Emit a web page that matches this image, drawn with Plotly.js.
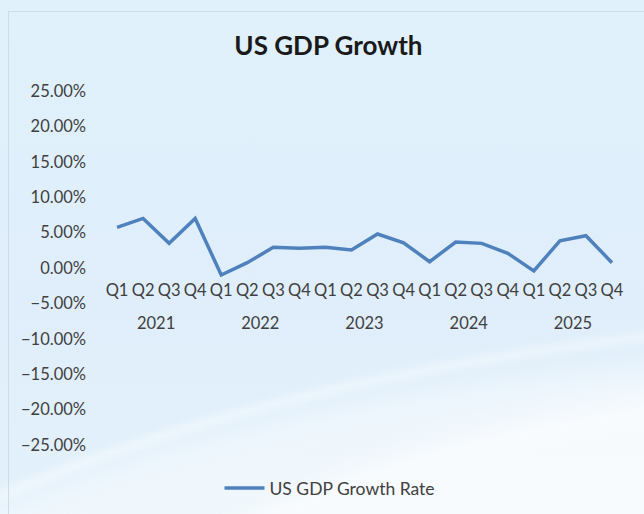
<!DOCTYPE html>
<html>
<head>
<meta charset="utf-8">
<script src="https://cdn.plot.ly/plotly-3.0.1.min.js"></script>
<style>
html, body { margin: 0; padding: 0; width: 644px; height: 514px; overflow: hidden; background: #e0f0fb; }
#bg { position: absolute; left: 0; top: 0; width: 644px; height: 514px; }
#frame { position: absolute; left: 8px; top: 11px; width: 640px; height: 510px; border-left: 1px solid #d0dbe5; border-top: 1px solid #d0dbe5; }
#chart { position: absolute; left: 0; top: 0; width: 644px; height: 514px; }
</style>
</head>
<body>
<svg id="bg" xmlns="http://www.w3.org/2000/svg" width="644" height="514">
  <defs>
    <linearGradient id="g" x1="0" y1="0" x2="0" y2="1">
      <stop offset="0" stop-color="#e0f1fc"/>
      <stop offset="0.6" stop-color="#dfeefa"/>
      <stop offset="1" stop-color="#e3f1fb"/>
    </linearGradient>
    <filter id="blur" x="-0.2" y="-0.2" width="1.4" height="1.4"><feGaussianBlur stdDeviation="14"/></filter>
    <filter id="blur2" x="-0.2" y="-0.2" width="1.4" height="1.4"><feGaussianBlur stdDeviation="4"/></filter>
  </defs>
  <rect width="644" height="514" fill="url(#g)"/>
  <path d="M-40,530 Q250,390 700,360 L700,560 L-40,560 Z" fill="#ffffff" opacity="0.45" filter="url(#blur)"/>
  <path d="M200,540 Q420,420 700,390 L700,560 Z" fill="#ffffff" opacity="0.5" filter="url(#blur)"/>
  <path d="M-20,505 Q260,380 660,335" fill="none" stroke="#ffffff" stroke-width="7" opacity="0.55" filter="url(#blur2)"/>
  <path d="M250,525 Q430,440 660,410" fill="none" stroke="#ffffff" stroke-width="6" opacity="0.45" filter="url(#blur2)"/>
</svg>
<div id="frame"></div>
<div id="chart"></div>
<script>
var years = ["2021","2021","2021","2021","2022","2022","2022","2022","2023","2023","2023","2023","2024","2024","2024","2024","2025","2025","2025","2025"];
var quarters = ["Q1","Q2","Q3","Q4","Q1","Q2","Q3","Q4","Q1","Q2","Q3","Q4","Q1","Q2","Q3","Q4","Q1","Q2","Q3","Q4"];
var growthRate = [0.0574, 0.0700, 0.0348, 0.0700, -0.0099, 0.0075, 0.0292, 0.0278, 0.0292, 0.0254, 0.0480, 0.0357, 0.0089, 0.0367, 0.0348, 0.0207, -0.0042, 0.0385, 0.0456, 0.0075];
var seriesName = "US GDP Growth Rate";
var chartTitle = "US GDP Growth";

// year labels get a blank first line so they sit lower under the quarter labels
var yearLabels = years.map(function (y) { return " <br>" + y; });

var trace = {
  type: "scatter",
  mode: "lines",
  x: [yearLabels, quarters],
  y: growthRate,
  name: seriesName,
  line: { color: "#4f81bd", width: 3.5 },
  showlegend: true,
  hoverinfo: "skip"
};

var fontFam = "Lato, 'Open Sans', sans-serif";

var layout = {
  width: 644,
  height: 514,
  paper_bgcolor: "rgba(0,0,0,0)",
  plot_bgcolor: "rgba(0,0,0,0)",
  margin: { l: 104, r: 19, t: 91, b: 69, autoexpand: false },
  font: { family: fontFam, color: "#404040", size: 16.5 },
  title: {
    text: "<b>" + chartTitle + "</b>",
    font: { family: fontFam, size: 26, color: "#1a1a1a" },
    x: 0.51, xref: "container", xanchor: "center",
    y: 1 - 46 / 514, yref: "container", yanchor: "middle"
  },
  xaxis: {
    type: "multicategory",
    anchor: "free",
    position: 0.5,
    range: [-0.5, 19.5],
    showline: false,
    showgrid: false,
    zeroline: false,
    showdividers: false,
    ticks: "",
    ticklabelstandoff: 10,
    tickfont: { size: 16.5, color: "#404040" }
  },
  yaxis: {
    range: [-0.25, 0.25],
    dtick: 0.05,
    tick0: 0,
    tickformat: ".2%",
    showgrid: false,
    zeroline: false,
    showline: false,
    ticks: "",
    ticklabelstandoff: 17,
    tickfont: { size: 16.5, color: "#404040" }
  },
  showlegend: true,
  legend: {
    orientation: "h",
    xref: "container", yref: "container",
    x: 330 / 644, xanchor: "center",
    y: 1 - 488 / 514, yanchor: "middle",
    itemwidth: 40,
    bgcolor: "rgba(0,0,0,0)",
    font: { size: 17.5, color: "#404040" }
  }
};

Plotly.newPlot("chart", [trace], layout, { displayModeBar: false, staticPlot: true });
</script>
</body>
</html>
